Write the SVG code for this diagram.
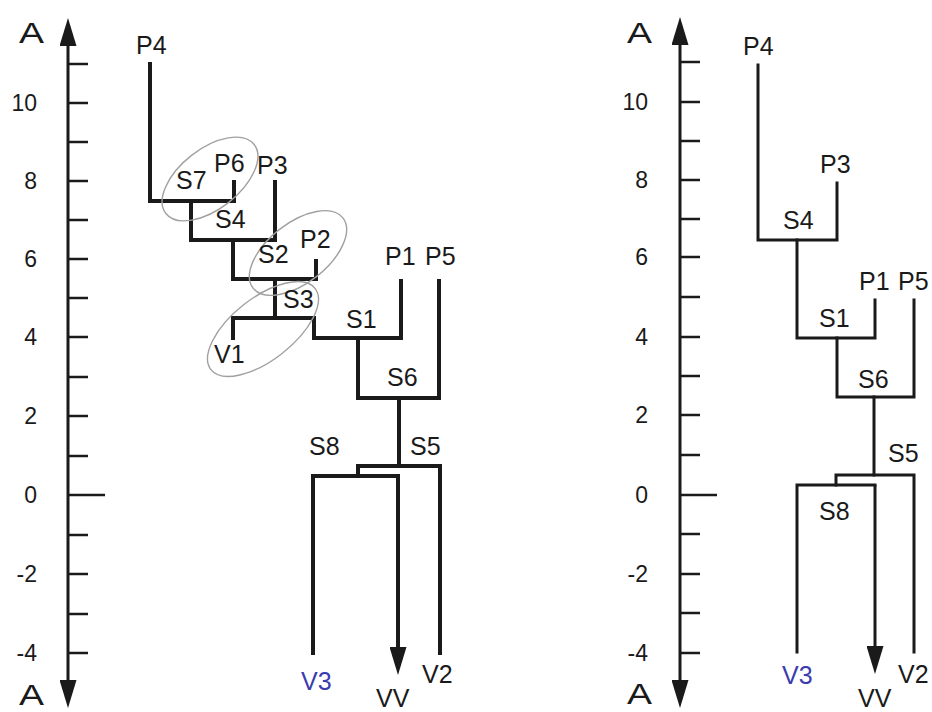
<svg xmlns="http://www.w3.org/2000/svg" width="932" height="712" viewBox="0 0 932 712">
<style>
.t{font-family:"Liberation Sans",Arial,sans-serif;font-size:25px;fill:#1a1a1a}
.n{font-family:"Liberation Sans",Arial,sans-serif;font-size:23px;fill:#1a1a1a;text-anchor:end}
.a{font-family:"Liberation Sans",Arial,sans-serif;font-size:30px;fill:#1a1a1a}
.b{fill:#3b3bb0}
.ax{stroke:#1a1a1a;stroke-width:3;fill:none}
.tk{stroke:#1a1a1a;stroke-width:2.5;fill:none}
.tl{stroke:#1a1a1a;stroke-width:4;fill:none;stroke-linejoin:miter;stroke-linecap:square}
.tr{stroke:#1a1a1a;stroke-width:3;fill:none;stroke-linejoin:miter;stroke-linecap:square}
.el{stroke:#a0a0a0;stroke-width:1.4;fill:none}
</style>
<defs>
<marker id="ah" viewBox="0 0 28 17" refX="0" refY="8.5" markerWidth="28" markerHeight="17" orient="auto-start-reverse" markerUnits="userSpaceOnUse">
<path d="M0,0 L28,8.5 L0,17 z" fill="#1a1a1a"/>
</marker>
</defs>
<rect width="932" height="712" fill="#ffffff"/>

<g id="axis-left">
<line class="ax" x1="68" y1="46" x2="68" y2="680" marker-start="url(#ah)" marker-end="url(#ah)"/>
<path class="tk" d="M69,64H88 M69,103H88 M69,142H88 M69,181H88 M69,220H88 M69,259H88 M69,298H88 M69,337H88 M69,377H88 M69,416H88 M69,456H88 M69,495H105 M69,535H88 M69,574H88 M69,614H88 M69,653H88"/>
<text class="a" x="19" y="43" textLength="25" lengthAdjust="spacingAndGlyphs">A</text>
<text class="a" x="19" y="705" textLength="25" lengthAdjust="spacingAndGlyphs">A</text>
<text class="n" x="37" y="111">10</text>
<text class="n" x="37" y="189">8</text>
<text class="n" x="37" y="267">6</text>
<text class="n" x="37" y="345">4</text>
<text class="n" x="37" y="424">2</text>
<text class="n" x="37" y="503">0</text>
<text class="n" x="37" y="582">-2</text>
<text class="n" x="37" y="661">-4</text>
</g>

<g id="axis-right">
<line class="ax" x1="680" y1="45" x2="680" y2="680" marker-start="url(#ah)" marker-end="url(#ah)"/>
<path class="tk" d="M681,62H700 M681,102H700 M681,141H700 M681,180H700 M681,219H700 M681,257H700 M681,297H700 M681,337H700 M681,376H700 M681,415H700 M681,455H700 M681,495H717 M681,534H700 M681,574H700 M681,613H700 M681,653H700"/>
<text class="a" x="627" y="43" textLength="25" lengthAdjust="spacingAndGlyphs">A</text>
<text class="a" x="627" y="704" textLength="25" lengthAdjust="spacingAndGlyphs">A</text>
<text class="n" x="648" y="110">10</text>
<text class="n" x="648" y="188">8</text>
<text class="n" x="648" y="265">6</text>
<text class="n" x="648" y="345">4</text>
<text class="n" x="648" y="423">2</text>
<text class="n" x="648" y="503">0</text>
<text class="n" x="648" y="582">-2</text>
<text class="n" x="648" y="661">-4</text>
</g>

<g id="connectors">
<path class="tl" d="M150,64V201H234V182"/>
<path class="tl" d="M275,182V240H191V201"/>
<path class="tl" d="M316,261V279H233V240"/>
<path class="tl" d="M275,279V318"/>
<path class="tl" d="M233,338V318H314V338H401V281"/>
<path class="tl" d="M358,338V398H439V281"/>
<path class="tl" d="M399,398V466"/>
<path class="tl" d="M440,653V466H358V476"/>
<path class="tl" d="M313,653V476H398"/>
<line class="tl" x1="398" y1="476" x2="398" y2="647" style="stroke-linecap:butt" marker-end="url(#ah)"/>

<path class="tr" d="M758,65V240H837V183"/>
<path class="tr" d="M797,240V338H875V300"/>
<path class="tr" d="M837,338V397H914V300"/>
<path class="tr" d="M874,397V475"/>
<path class="tr" d="M914,652V475H836V485"/>
<path class="tr" d="M797,652V485H875"/>
<line class="tr" x1="875" y1="485" x2="875" y2="646" style="stroke-linecap:butt" marker-end="url(#ah)"/>

<ellipse class="el" cx="210" cy="179" rx="56" ry="30" transform="rotate(-38 210 179)"/>
<ellipse class="el" cx="298" cy="253" rx="57" ry="30" transform="rotate(-38 298 253)"/>
<ellipse class="el" cx="263" cy="329" rx="66" ry="31" transform="rotate(-38 263 329)"/>
</g>

<g id="left-tree-labels">
<g id="L-P4"><text class="t" x="136" y="54">P4</text></g>
<g id="L-S7"><text class="t" x="176" y="189">S7</text></g>
<g id="L-P6"><text class="t" x="214" y="172">P6</text></g>
<g id="L-P3"><text class="t" x="257" y="174">P3</text></g>
<g id="L-S4"><text class="t" x="215" y="228">S4</text></g>
<g id="L-S2"><text class="t" x="258" y="263">S2</text></g>
<g id="L-P2"><text class="t" x="300" y="248">P2</text></g>
<g id="L-S3"><text class="t" x="283" y="308">S3</text></g>
<g id="L-V1"><text class="t" x="214" y="363">V1</text></g>
<g id="L-S1"><text class="t" x="346" y="328">S1</text></g>
<g id="L-P1"><text class="t" x="385" y="265">P1</text></g>
<g id="L-P5"><text class="t" x="425" y="265">P5</text></g>
<g id="L-S6"><text class="t" x="387" y="386">S6</text></g>
<g id="L-S8"><text class="t" x="309" y="455">S8</text></g>
<g id="L-S5"><text class="t" x="410" y="455">S5</text></g>
<g id="L-V3"><text class="t b" x="301" y="690">V3</text></g>
<g id="L-VV"><text class="t" x="376" y="707">VV</text></g>
<g id="L-V2"><text class="t" x="422" y="683">V2</text></g>
</g>

<g id="right-tree-labels">
<g id="R-P4"><text class="t" x="743" y="55">P4</text></g>
<g id="R-P3"><text class="t" x="820" y="173">P3</text></g>
<g id="R-S4"><text class="t" x="783" y="229">S4</text></g>
<g id="R-P1"><text class="t" x="859" y="290">P1</text></g>
<g id="R-P5"><text class="t" x="898" y="290">P5</text></g>
<g id="R-S1"><text class="t" x="819" y="327">S1</text></g>
<g id="R-S6"><text class="t" x="858" y="388">S6</text></g>
<g id="R-S5"><text class="t" x="888" y="462">S5</text></g>
<g id="R-S8"><text class="t" x="819" y="520">S8</text></g>
<g id="R-V3"><text class="t b" x="782" y="684">V3</text></g>
<g id="R-VV"><text class="t" x="858" y="707">VV</text></g>
<g id="R-V2"><text class="t" x="898" y="683">V2</text></g>
</g>
</svg>
